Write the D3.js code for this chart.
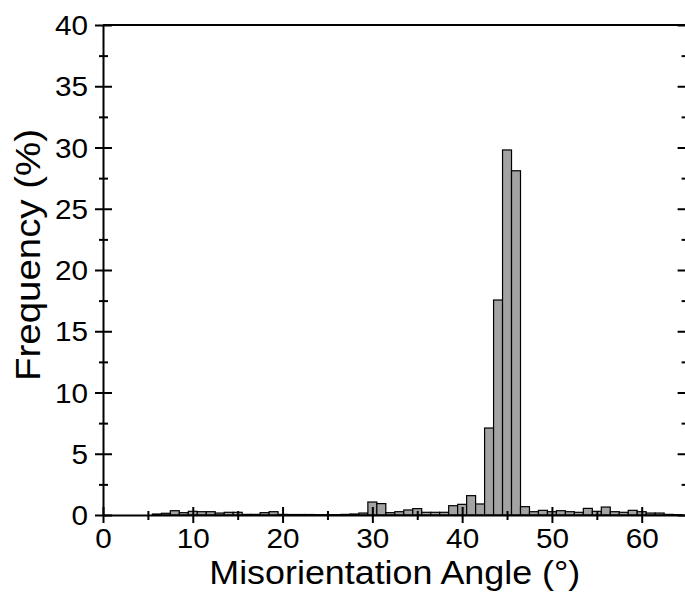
<!DOCTYPE html>
<html>
<head>
<meta charset="utf-8">
<script src="https://cdn.jsdelivr.net/npm/d3@7"></script>
<style>
	body { margin: 0; background: #fff; }
	svg { display: block; }
	text { font-family: "Liberation Sans", Arial, sans-serif; fill: #000; }
</style>
</head>
<body>
<div id="chart"></div>
<script>

// bin centres (degrees) and frequency (%)
const angles = [0, 1, 2, 3, 4, 5, 6, 7, 8, 9, 10, 11, 12, 13, 14, 15, 16, 17, 18, 19,
	20, 21, 22, 23, 24, 25, 26, 27, 28, 29, 30, 31, 32, 33, 34, 35, 36, 37, 38, 39,
	40, 41, 42, 43, 44, 45, 46, 47, 48, 49, 50, 51, 52, 53, 54, 55, 56, 57, 58, 59,
	60, 61, 62, 63, 64];
const frequency = [0, 0, 0, 0, 0, 0, 0.08, 0.14, 0.35, 0.19, 0.30, 0.27, 0.27, 0.16, 0.22, 0.22, 0.05, 0.05, 0.19, 0.27,
	0.05, 0.04, 0.04, 0.04, 0.03, 0.03, 0.03, 0.05, 0.08, 0.16, 1.06, 0.93, 0.19, 0.27, 0.41, 0.52, 0.22, 0.22, 0.22, 0.76,
	0.87, 1.58, 0.90, 7.10, 17.55, 29.8, 28.1, 0.68, 0.27, 0.38, 0.27, 0.35, 0.27, 0.22, 0.54, 0.30, 0.65, 0.27, 0.22, 0.38,
	0.27, 0.16, 0.16, 0.05, 0.03];

const xTicks = [0, 10, 20, 30, 40, 50, 60];
const xMinor = [5, 15, 25, 35, 45, 55, 65];
const yTicks = [0, 5, 10, 15, 20, 25, 30, 35, 40];
const yMinor = [2.5, 7.5, 12.5, 17.5, 22.5, 27.5, 32.5, 37.5];

const xTitle = "Misorientation Angle (°)";
const yTitle = "Frequency (%)";

let width = 685, height = 601;
let plotLeft = 103, plotTop = 25, plotBottom = 515, plotRight = 686.6;

let svg = d3.select("#chart")
	.append("svg")
		.attr("width", width)
		.attr("height", height);

let x = d3.scaleLinear().domain([0, 65]).range([plotLeft, plotRight]);
let y = d3.scaleLinear().domain([0, 40]).range([plotBottom, plotTop]);

let data = angles.map((a, i) => {return {angle: a, value: frequency[i]}});

// bars, 1 degree wide, centred on the bin value
svg.append("g")
	.selectAll("rect")
	.data(data.filter(d => d.value > 0))
	.enter()
		.append("rect")
		.attr("x", d => x(d.angle - 0.5))
		.attr("width", d => x(d.angle + 0.5) - x(d.angle - 0.5))
		.attr("y", d => y(d.value))
		.attr("height", d => y(0) - y(d.value))
		.attr("fill", "#a3a3a3")
		.attr("stroke", "#000")
		.attr("stroke-width", 1.2);

const stretch = "scale(1.1,1)";

// bottom axis
let gx = svg.append("g")
	.attr("transform", "translate(0," + plotBottom + ")")
	.call(d3.axisBottom(x).tickValues(xTicks).tickSizeOuter(0));
gx.select(".domain").attr("stroke-width", 2);
gx.selectAll(".tick line").attr("y1", -8).attr("y2", 8).attr("stroke-width", 2);
gx.selectAll(".tick text")
	.attr("y", 33).attr("dy", 0)
	.attr("font-size", 27)
	.attr("transform", stretch);

let gxMinor = svg.append("g")
	.attr("transform", "translate(0," + plotBottom + ")")
	.call(d3.axisBottom(x).tickValues(xMinor).tickFormat("").tickSizeOuter(0));
gxMinor.select(".domain").remove();
gxMinor.selectAll(".tick line").attr("y1", -4).attr("y2", 5).attr("stroke-width", 2);

// left axis
let gy = svg.append("g")
	.attr("transform", "translate(" + plotLeft + ",0)")
	.call(d3.axisLeft(y).tickValues(yTicks).tickSizeOuter(0));
gy.select(".domain").attr("stroke-width", 2);
gy.selectAll(".tick line").attr("x1", -8).attr("x2", 9).attr("stroke-width", 2);
gy.selectAll(".tick text")
	.attr("x", 0).attr("dy", "0.36em")
	.attr("font-size", 27)
	.attr("transform", "translate(-15,0) " + stretch);

let gyMinor = svg.append("g")
	.attr("transform", "translate(" + plotLeft + ",0)")
	.call(d3.axisLeft(y).tickValues(yMinor).tickFormat("").tickSizeOuter(0));
gyMinor.select(".domain").remove();
gyMinor.selectAll(".tick line").attr("x1", -4).attr("x2", 5).attr("stroke-width", 2);

// right axis, ticks pointing inward
let gr = svg.append("g")
	.attr("transform", "translate(" + plotRight + ",0)")
	.call(d3.axisRight(y).tickValues(yTicks).tickFormat("").tickSize(-9).tickSizeOuter(0));
gr.select(".domain").attr("stroke-width", 2);
gr.selectAll(".tick line").attr("stroke-width", 2);

let grMinor = svg.append("g")
	.attr("transform", "translate(" + plotRight + ",0)")
	.call(d3.axisRight(y).tickValues(yMinor).tickFormat("").tickSize(-5).tickSizeOuter(0));
grMinor.select(".domain").remove();
grMinor.selectAll(".tick line").attr("stroke-width", 2);

// top frame line
svg.append("line")
	.attr("x1", plotLeft).attr("x2", plotRight)
	.attr("y1", plotTop).attr("y2", plotTop)
	.attr("stroke", "#000")
	.attr("stroke-width", 2);

// titles
svg.append("text")
	.attr("x", (plotLeft + plotRight) / 2)
	.attr("y", 584)
	.attr("text-anchor", "middle")
	.attr("font-size", 34)
	.attr("textLength", 371)
	.attr("lengthAdjust", "spacingAndGlyphs")
	.text(xTitle);

svg.append("text")
	.attr("transform", "translate(40,255) rotate(-90)")
	.attr("text-anchor", "middle")
	.attr("font-size", 35)
	.attr("textLength", 252)
	.attr("lengthAdjust", "spacingAndGlyphs")
	.text(yTitle);

</script>
</body>
</html>
